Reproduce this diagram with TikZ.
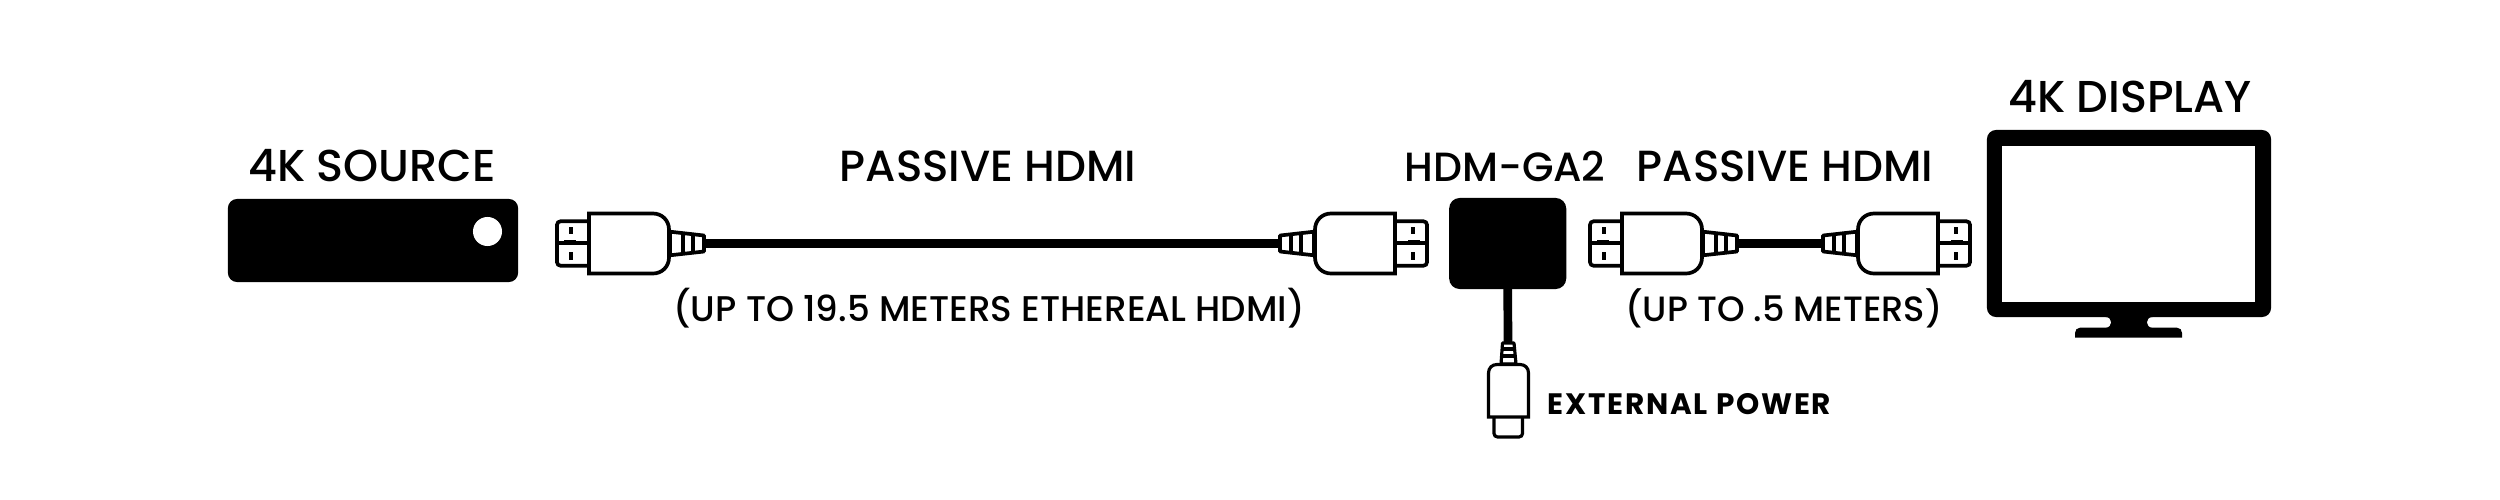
\documentclass[tikz,border=0pt]{standalone}
\usepackage{fontspec}
\setmainfont{Poppins Medium}
\newfontfamily\powerfont[LetterSpace=6]{Poppins}
\newcommand{\hdmiplug}[1]{\draw[plugline,fill=white,line join=round] (82,-11.8) -- (116,-8) -- (116,8) -- (82,11.8) -- cycle;
					\draw[plugline] (95,-10.5) -- (95,10.5);
					\draw[plugline] (105,-9.5) -- (105,9.5);
					\draw[plugline,fill=white,rounded corners=1pt] (2,-22.2) -- (-31,-22.2) -- (-31,22.2) -- (2,22.2);
					\draw[plugline] (-31,-0.5) -- (0,-0.5);
					\draw[plugline] (-24,-2) -- (-12,-2);
					\fill (-18.7,-17) rectangle (-14.7,-9.5);
					\fill (-18.7,8) rectangle (-14.7,16);
					\draw[plugline,fill=white] (1,-30) -- (65,-30) .. controls (74,-30) and (81,-23) .. (81,-14) -- (81,14) .. controls (81,23) and (74,30) .. (65,30) -- (1,30) -- cycle;
					\coordinate (#1) at (117,0);}
\tikzset{
	plugline/.style={line width=1.05pt},
	powerline/.style={line width=0.9pt},
	blackbox/.style={fill=black,rounded corners=2.6pt,inner sep=0pt,outer sep=0pt},
	cable/.style={line width=2.3pt},
	title/.style={font=\fontsize{12.4}{14}\selectfont,anchor=base},
	subtitle/.style={font=\fontsize{10.1}{12}\selectfont,anchor=base}
}
\begin{document}
\begin{tikzpicture}[x=0.01cm,y=-0.01cm]
	\useasboundingbox (0,0) rectangle (2500,500);

	% source
	\node[blackbox,minimum width=2.9cm,minimum height=0.83cm] (source) at (373,240.5) {};
	\node[circle,fill=white,inner sep=0pt,minimum size=0.29cm] (sourcehole) at (487.5,231.5) {};

	% first cable
	\begin{scope}[shift={(588,243.5)}]
		\hdmiplug{plugoneleft}
	\end{scope}
	\begin{scope}[shift={(1396,243.5)},xscale=-1]
		\hdmiplug{plugoneright}
	\end{scope}
	\draw[cable] (plugoneleft) -- (plugoneright);

	% adapter
	\node[blackbox,rounded corners=3pt,minimum width=1.17cm,minimum height=0.91cm] (adapter) at (1507.7,243.5) {};
	\coordinate (powerend) at (1508,342);
	\draw[line width=2.47pt] (adapter.south) -- (powerend);
	\draw[powerline,fill=white,line join=round] (1502.5,343) -- (1514,343) -- (1516,364) -- (1501,364) -- cycle;
	\draw[powerline] (1502,349) -- (1515,349);
	\draw[powerline] (1501,356) -- (1516,356);
	\draw[powerline,fill=white,rounded corners=1pt] (1494,416) -- (1494,437) -- (1522.5,437) -- (1522.5,416);
	\draw[powerline,fill=white] (1488.5,417) -- (1488.5,373) .. controls (1488.5,368) and (1492,364.5) .. (1497,364.5) -- (1520,364.5) .. controls (1525,364.5) and (1528.5,368) .. (1528.5,373) -- (1528.5,417) -- cycle;

	% second cable
	\begin{scope}[shift={(1621,243.5)}]
		\hdmiplug{plugtwoleft}
	\end{scope}
	\begin{scope}[shift={(1939,243.5)},xscale=-1]
		\hdmiplug{plugtworight}
	\end{scope}
	\draw[cable] (plugtwoleft) -- (plugtworight);

	% display
	\node[blackbox,minimum width=2.84cm,minimum height=1.87cm] (display) at (2129,223.5) {};
	\node[fill=white,inner sep=0pt,outer sep=0pt,minimum width=2.53cm,minimum height=1.56cm] (screen) at (2128.5,224) {};
	\fill (2075,337.7) -- (2075,333) .. controls (2075,330) and (2077,327.7) .. (2080,327.7) -- (2105.5,327.7) .. controls (2113,327.7) and (2113,317) .. (2105.5,317) -- (2152.5,317) .. controls (2145,317) and (2145,327.7) .. (2152.5,327.7) -- (2177,327.7) .. controls (2180,327.7) and (2182,330) .. (2182,333) -- (2182,337.7) -- cycle;

	% labels
	\node[title,font=\fontsize{12.7}{14}\selectfont] (sourcelabel) at (372,181) {4K SOURCE};
	\node[title] (cableonelabel) at (988,181) {PASSIVE HDMI};
	\node[title,font=\fontsize{11.6}{14}\selectfont] (adapterlabel) at (1505,181) {HDM-GA2};
	\node[title] (cabletwolabel) at (1785,181) {PASSIVE HDMI};
	\node[title,font=\fontsize{12.7}{14}\selectfont] (displaylabel) at (2130,112) {4K DISPLAY};
	\node[subtitle,font=\fontsize{10.15}{12}\selectfont] (cableonenote) at (989,321) {(UP TO 19.5 METERS ETHEREAL HDMI)};
	\node[subtitle,font=\fontsize{10}{12}\selectfont] (cabletwonote) at (1784,321) {(UP TO .5 METERS)};
	\node[anchor=base west,inner sep=0pt,font=\powerfont\fontsize{8.4}{10}\selectfont\bfseries] (powerlabel) at (1547,414) {EXTERNAL POWER};
\end{tikzpicture}
\end{document}
